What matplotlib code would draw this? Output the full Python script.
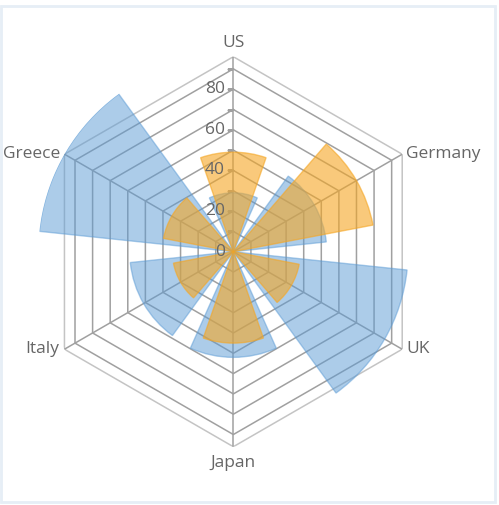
import numpy as np
import matplotlib
matplotlib.use("Agg")
import matplotlib.pyplot as plt
from matplotlib.patches import Rectangle

# data
countries = ["US", "Germany", "UK", "Japan", "Italy", "Greece"]
blue_vals = [29, 46, 86, 52, 51, 96]
orange_vals = [49, 70, 33, 45, 30, 35]
r_ticks = [0, 20, 40, 60, 80]
grid_levels = [10, 20, 30, 40, 50, 60, 70, 80, 90]
r_max = 96

plt.rcParams['font.family'] = ['Open Sans', 'DejaVu Sans']
text_col = '#666666'

fig = plt.figure(figsize=(4.99, 5.05), dpi=100)
# light frame around the chart
fig.patches.append(Rectangle((0.003, 0.006), 0.988, 0.983, transform=fig.transFigure,
                             fill=False, edgecolor='#e6eef6', lw=2))

ax = fig.add_axes([0.0768, 0.1154, 0.7816, 0.7723], projection='polar')
ax.set_theta_zero_location('N')
ax.set_theta_direction(-1)
ax.set_ylim(0, r_max)
ax.grid(False)
ax.spines['polar'].set_visible(False)
ax.set_xticks([])
ax.set_yticks([])
ax.patch.set_alpha(0)

n = len(countries)
theta = np.arange(n) * 2 * np.pi / n
step = 2 * np.pi / n
closed = np.append(theta, theta[0])

# hexagon grid
for lv in grid_levels:
    ax.plot(closed, [lv] * (n + 1), color='#a0a0a0', lw=1.1, zorder=1)
ax.plot(closed, [r_max] * (n + 1), color='#c4c4c4', lw=1.1, zorder=1)
for t in theta:
    ax.plot([t, t], [0, r_max], color='#a0a0a0', lw=1.1, zorder=1)

# small ticks on the US axis
ax.plot([0] * len(grid_levels), grid_levels, ls='none', marker=0, ms=4,
        color='#a0a0a0', zorder=1)

# wedges
ax.bar(theta, blue_vals, width=step * 0.8, bottom=0, color='#5b9bd5', alpha=0.5,
       edgecolor='#5b9bd5', lw=1, zorder=2)
ax.bar(theta, orange_vals, width=step * 0.64, bottom=0, color='#f5a623', alpha=0.6,
       edgecolor='#f5a623', lw=1, zorder=3)

# radial labels
for v in r_ticks:
    ax.annotate(str(v), xy=(0, v), xytext=(-6, 0), textcoords='offset points',
                ha='right', va='center', fontsize=12.5, color=text_col, zorder=4)

# category labels
offsets = {
    "US": ((0, 4), 'center', 'bottom'),
    "Germany": ((3, 0), 'left', 'center'),
    "UK": ((3, 0), 'left', 'center'),
    "Japan": ((0, -6), 'center', 'top'),
    "Italy": ((-4, 0), 'right', 'center'),
    "Greece": ((-3, 0), 'right', 'center'),
}
for t, name in zip(theta, countries):
    off, ha, va = offsets[name]
    ax.annotate(name, xy=(t, r_max), xytext=off, textcoords='offset points',
                ha=ha, va=va, fontsize=12.5, color=text_col, annotation_clip=False)

fig.savefig('out.png', dpi=100)
